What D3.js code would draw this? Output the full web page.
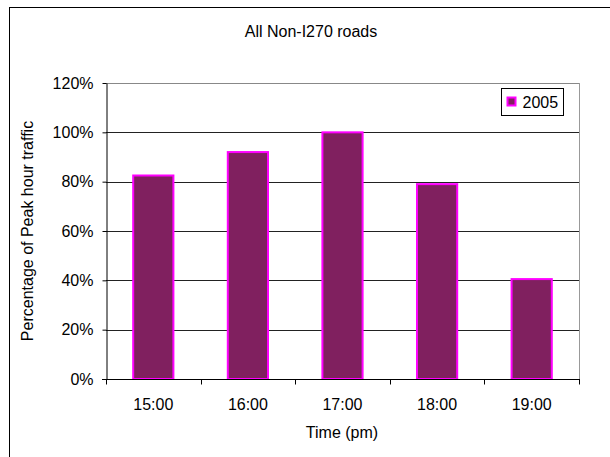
<!DOCTYPE html>
<html>
<head>
<meta charset="utf-8">
<script src="https://cdn.jsdelivr.net/npm/d3@7"></script>
<style>
  html, body { margin: 0; padding: 0; background: #fff; }
  svg { display: block; font-family: "Liberation Sans", Arial, sans-serif; }
</style>
</head>
<body>
<svg id="chart" width="610" height="457"></svg>
<script>
// Share of peak-hour traffic by hour, non-I270 roads
const hours = ["15:00", "16:00", "17:00", "18:00", "19:00"];
const share2005 = [0.825, 0.92, 1.0, 0.79, 0.405];
const yTicks = [0, 0.2, 0.4, 0.6, 0.8, 1.0, 1.2];
const seriesName = "2005";

const FS = 16;
const svg = d3.select("#chart");
const margin = { left: 106, right: 31, top: 83, bottom: 78 };
const W = 610, H = 457;
const x0 = margin.left, x1 = W - margin.right;
const yTop = margin.top, yBot = H - margin.bottom;

// outer chart frame
svg.append("rect")
  .attr("x", 9.5).attr("y", 7.5)
  .attr("width", 620).attr("height", 460)
  .attr("fill", "none").attr("stroke", "#000").attr("stroke-width", 1);

const x = d3.scaleBand().domain(hours).range([x0, x1]).paddingInner(0.575).paddingOuter(0.2875);
const y = d3.scaleLinear().domain([0, 1.2]).range([yBot, yTop]);

// gridlines
svg.append("g").selectAll("line")
  .data(yTicks.filter(d => d > 0))
  .join("line")
  .attr("x1", x0).attr("x2", x1)
  .attr("y1", d => Math.round(y(d)) + 0.5).attr("y2", d => Math.round(y(d)) + 0.5)
  .attr("stroke", d => d === 1.2 ? "#888" : "#222").attr("stroke-width", 1);

// right plot edge
svg.append("line")
  .attr("x1", x1 + 0.5).attr("x2", x1 + 0.5)
  .attr("y1", yTop).attr("y2", yBot)
  .attr("stroke", "#999");

// bars
svg.append("g").selectAll("rect")
  .data(share2005)
  .join("rect")
  .attr("x", (d, i) => x(hours[i]))
  .attr("y", d => y(d))
  .attr("width", x.bandwidth())
  .attr("height", d => yBot - y(d))
  .attr("fill", "#80205f")
  .attr("stroke", "#ff00ff")
  .attr("stroke-width", 2);

// y axis
const yAxis = svg.append("g")
  .attr("transform", `translate(${x0 + 0.5},0)`)
  .call(d3.axisLeft(y).tickValues(yTicks).tickFormat(d3.format(".0%")).tickSize(4).tickSizeOuter(0));
yAxis.select(".domain").attr("stroke", "#000");
yAxis.selectAll(".tick line").attr("stroke", "#000");
yAxis.selectAll("text").attr("font-size", FS).attr("fill", "#000")
  .attr("font-family", "Liberation Sans, Arial, sans-serif").attr("dx", -6);

// x axis with ticks at category boundaries
const xb = d3.scaleLinear().domain([0, hours.length]).range([x0, x1]);
const xAxisG = svg.append("g").attr("transform", `translate(0,${yBot + 0.5})`);
xAxisG.append("line").attr("x1", x0 - 4).attr("x2", x1 + 1).attr("stroke", "#000");
xAxisG.selectAll("line.tk")
  .data(d3.range(hours.length + 1))
  .join("line").attr("class", "tk")
  .attr("x1", d => Math.round(xb(d)) + 0.5).attr("x2", d => Math.round(xb(d)) + 0.5)
  .attr("y1", 0).attr("y2", 5).attr("stroke", "#000");
xAxisG.selectAll("text")
  .data(hours)
  .join("text")
  .attr("x", d => x(d) + x.bandwidth() / 2)
  .attr("y", 30)
  .attr("text-anchor", "middle")
  .attr("font-size", FS)
  .text(d => d);

// titles
svg.append("text").attr("x", 311).attr("y", 37).attr("text-anchor", "middle")
  .attr("font-size", FS).text("All Non-I270 roads");
svg.append("text").attr("x", 342).attr("y", 438).attr("text-anchor", "middle")
  .attr("font-size", FS).text("Time (pm)");
svg.append("text")
  .attr("transform", `translate(33,${(yTop + yBot) / 2}) rotate(-90)`)
  .attr("text-anchor", "middle").attr("font-size", FS)
  .text("Percentage of Peak hour traffic");

// legend
const lg = svg.append("g").attr("transform", "translate(501.5,88.5)");
lg.append("rect").attr("width", 62).attr("height", 27).attr("fill", "#fff").attr("stroke", "#000");
lg.append("rect").attr("x", 6).attr("y", 9).attr("width", 8).attr("height", 8)
  .attr("fill", "#80205f").attr("stroke", "#ff00ff").attr("stroke-width", 2);
lg.append("text").attr("x", 21).attr("y", 19.5).attr("font-size", FS).text(seriesName);
</script>
</body>
</html>
